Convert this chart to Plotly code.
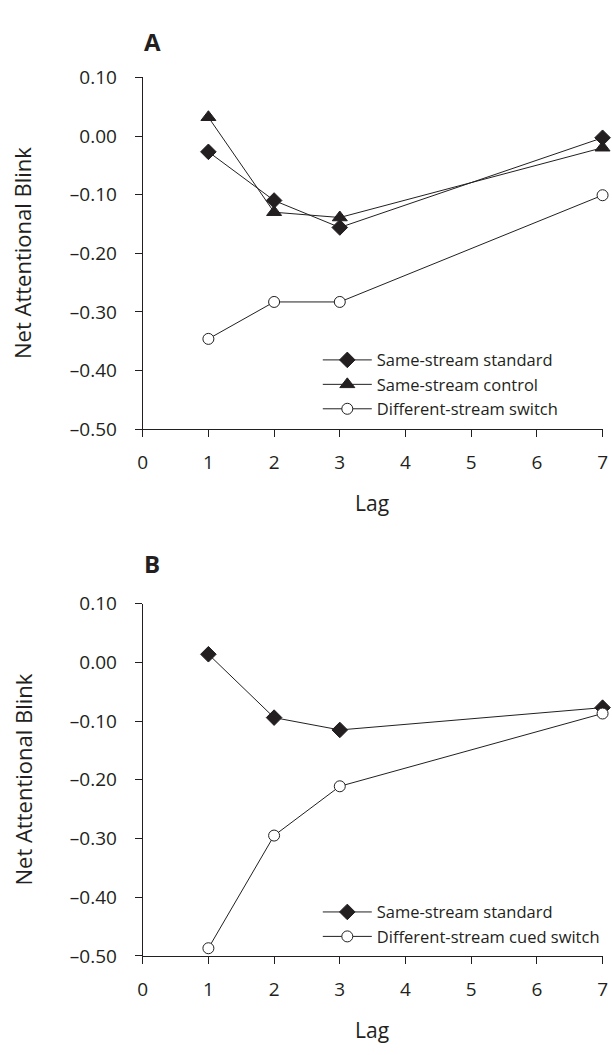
import plotly.graph_objects as go

# ---- data ----
lags = [1, 2, 3, 7]

a_standard = [-0.027, -0.110, -0.156, -0.003]
a_control = [0.032, -0.130, -0.139, -0.020]
a_switch = [-0.346, -0.283, -0.283, -0.101]

b_standard = [0.014, -0.094, -0.115, -0.077]
b_cued_switch = [-0.487, -0.295, -0.211, -0.087]

x_tick_vals = [0, 1, 2, 3, 4, 5, 6, 7]
y_tick_vals = [0.10, 0.00, -0.10, -0.20, -0.30, -0.40, -0.50]
y_tick_text = ["0.10", "0.00", "\u20130.10", "\u20130.20", "\u20130.30", "\u20130.40", "\u20130.50"]

panel_labels = ["A", "B"]
x_title = "Lag"
y_title = "Net Attentional Blink"

# ---- styling ----
W, H = 612, 1055
FONT = "Open Sans"
INK = "#231f20"


def py(px):
    return 1 - px / H


def pxx(px):
    return px / W


x_dom = [pxx(140), pxx(607.5)]
a_dom = [py(426.7), py(66)]
b_dom = [py(966.7), py(605.7)]

fig = go.Figure()

line = dict(color=INK, width=1)


def add(x, y, name, symbol, fill, size, xa, ya, legend):
    fig.add_trace(go.Scatter(
        x=x, y=y, name=name, mode="lines+markers",
        line=line,
        marker=dict(symbol=symbol, size=size, color=fill,
                    line=dict(color=INK, width=1)),
        xaxis=xa, yaxis=ya, legend=legend, cliponaxis=False,
    ))


add(lags, a_standard, "Same-stream standard", "diamond", INK, 12, "x", "y", "legend")
add(lags, a_control, "Same-stream control", "triangle-up", INK, 13, "x", "y", "legend")
add(lags, a_switch, "Different-stream switch", "circle", "white", 11, "x", "y", "legend")
add(lags, b_standard, "Same-stream standard", "diamond", INK, 12, "x2", "y2", "legend2")
add(lags, b_cued_switch, "Different-stream cued switch", "circle", "white", 11, "x2", "y2", "legend2")

xaxis_common = dict(
    range=[0, 7], tickvals=x_tick_vals, showline=True, linecolor=INK, linewidth=1,
    ticks="outside", ticklen=7, tickcolor=INK, tickwidth=1, showgrid=False,
    zeroline=False, tickfont=dict(family=FONT, size=19, color=INK),
    ticklabelstandoff=9, ticklabeloverflow="allow", domain=x_dom,
)
yaxis_common = dict(
    range=[-0.5, 0.1], tickvals=y_tick_vals, ticktext=y_tick_text, showline=True,
    linecolor=INK, linewidth=1, ticks="outside", ticklen=7, tickcolor=INK,
    tickwidth=1, showgrid=False, zeroline=False,
    tickfont=dict(family=FONT, size=19, color=INK), ticklabelstandoff=14,
    ticklabeloverflow="allow",
)

legend_common = dict(
    font=dict(family=FONT, size=16.5, color=INK), bgcolor="rgba(0,0,0,0)",
    xanchor="left", yanchor="top", itemwidth=49, tracegroupgap=0,
)

fig.update_layout(
    width=W, height=H, margin=dict(l=0, r=0, t=0, b=0),
    paper_bgcolor="white", plot_bgcolor="white",
    xaxis=dict(**xaxis_common, anchor="y"),
    yaxis=dict(**yaxis_common, domain=a_dom, anchor="x"),
    xaxis2=dict(**xaxis_common, anchor="y2"),
    yaxis2=dict(**yaxis_common, domain=b_dom, anchor="x2"),
    legend=dict(**legend_common, x=pxx(318), y=py(338)),
    legend2=dict(**legend_common, x=pxx(318), y=py(904)),
    showlegend=True,
)

annots = []
for lab, cy in zip(panel_labels, [29, 564]):
    annots.append(dict(text="<b>" + lab + "</b>", x=pxx(139), y=py(cy), xref="paper", yref="paper",
                       xanchor="left", yanchor="middle", showarrow=False,
                       font=dict(family=FONT, size=24, color=INK)))
for cy in [(66 + 426.7) / 2, (605.7 + 966.7) / 2]:
    annots.append(dict(text=y_title, x=pxx(18), y=py(cy), xref="paper", yref="paper",
                       xanchor="center", yanchor="middle", textangle=-90, showarrow=False,
                       font=dict(family=FONT, size=22, color=INK)))
for cy in [502, 1043]:
    annots.append(dict(text=x_title, x=pxx(373.5), y=py(cy), xref="paper", yref="paper",
                       xanchor="center", yanchor="middle", showarrow=False,
                       font=dict(family=FONT, size=21, color=INK)))
fig.update_layout(annotations=annots)

fig.write_html(
    "out.html",
    config={"displayModeBar": False},
    post_script="document.body.style.margin='0';document.body.style.overflow='hidden';",
)
